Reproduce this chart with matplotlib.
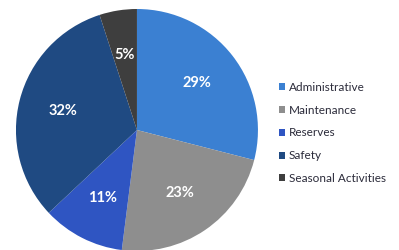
import matplotlib.pyplot as plt
from matplotlib.patches import Patch

# budget share by category
categories = ["Administrative", "Maintenance", "Reserves", "Safety", "Seasonal Activities"]
shares = [29, 23, 11, 32, 5]
colors = ["#3b80d2", "#8e8e8e", "#2f55c2", "#1f4a82", "#3e3e3e"]

fig = plt.figure(figsize=(3.99, 2.5), dpi=100)
ax = fig.add_axes([0.040, -0.004, 0.6065, 0.968])

wedges, texts, autotexts = ax.pie(
    shares, colors=colors, startangle=90, counterclock=False,
    autopct="%.0f%%", pctdistance=0.63, radius=1.0,
    wedgeprops=dict(linewidth=0),
    textprops=dict(color="white", fontsize=10.5, fontweight="bold", family="Lato"))
ax.set_xlim(-1, 1)
ax.set_ylim(-1, 1)
ax.set_aspect("auto")
ax.axis("off")

handles = [Patch(facecolor=c, edgecolor="none") for c in colors]
fig.legend(handles, categories, loc="upper left", bbox_to_anchor=(0.672, 0.715),
           frameon=False, handlelength=0.55, handleheight=0.55,
           handletextpad=0.3, labelspacing=1.0, labelcolor="#2b2b3a",
           prop=dict(family="Lato", size=8.5))

fig.savefig("out.png", dpi=100)
